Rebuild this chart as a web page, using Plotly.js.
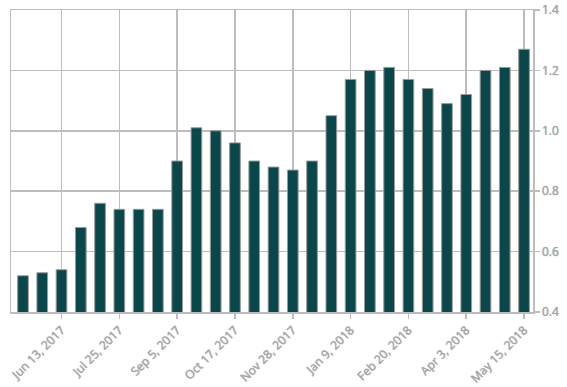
<!DOCTYPE html>
<html>
<head>
<meta charset="utf-8">
<script src="https://cdn.plot.ly/plotly-3.0.1.min.js"></script>
<style>html,body{margin:0;padding:0;background:#fff;}#chart{width:567px;height:387px;}</style>
</head>
<body>
<div id="chart"></div>
<script>
const dates = [
  "2017-05-16","2017-05-30","2017-06-13","2017-06-27","2017-07-11","2017-07-25",
  "2017-08-08","2017-08-22","2017-09-05","2017-09-19","2017-10-03","2017-10-17",
  "2017-10-31","2017-11-14","2017-11-28","2017-12-12","2017-12-26","2018-01-09",
  "2018-01-23","2018-02-06","2018-02-20","2018-03-06","2018-03-20","2018-04-03",
  "2018-04-17","2018-05-01","2018-05-15"
];
const values = [
  0.52, 0.53, 0.54, 0.68, 0.76, 0.74,
  0.74, 0.74, 0.90, 1.01, 1.00, 0.96,
  0.90, 0.88, 0.87, 0.90, 1.05, 1.17,
  1.20, 1.21, 1.17, 1.14, 1.09, 1.12,
  1.20, 1.21, 1.27
];
const yTicks = [0.4, 0.6, 0.8, 1.0, 1.2, 1.4];

const gridCol = "#bdbdbd";
const textCol = "#a8a8a8";
const DAY = 86400000;
const tf = {family: "Open Sans, sans-serif", size: 12, color: textCol, shadow: "0px 0px 1px #888"};

Plotly.newPlot("chart", [{
  type: "bar",
  x: dates,
  y: values,
  width: 11 * DAY * 14 / 19.24 * 0.97,
  marker: {color: "#0b464b", line: {color: "#9a9a9a", width: 1}},
  hoverinfo: "x+y"
}], {
  width: 567, height: 387,
  margin: {l: 11, r: 34, t: 10, b: 75},
  paper_bgcolor: "#fff", plot_bgcolor: "#fff",
  showlegend: false,
  font: {family: "Open Sans, sans-serif", size: 12, color: textCol},
  xaxis: {
    type: "date",
    range: [new Date(Date.parse("2017-05-16") - 8.7 * DAY).toISOString(),
            new Date(Date.parse("2018-05-15") + 6.5 * DAY).toISOString()],
    tick0: "2017-06-13",
    dtick: 42 * DAY,
    tickformat: "%b %-d, %Y",
    tickangle: -45,
    ticks: "outside", ticklen: 5, tickcolor: gridCol, tickwidth: 1.5,
    showgrid: true, gridcolor: gridCol, gridwidth: 1.5,
    showline: true, linecolor: gridCol, linewidth: 1.5, mirror: true,
    tickfont: tf,
    zeroline: false
  },
  yaxis: {
    side: "right",
    range: [0.4, 1.4],
    tickvals: yTicks,
    tickformat: ".1f",
    ticks: "outside", ticklen: 5, tickcolor: gridCol, tickwidth: 1.5,
    showgrid: true, gridcolor: gridCol, gridwidth: 1.5,
    showline: true, linecolor: gridCol, linewidth: 1.5, mirror: true,
    tickfont: tf,
    zeroline: false
  }
}, {displayModeBar: false, staticPlot: true});
</script>
</body>
</html>
